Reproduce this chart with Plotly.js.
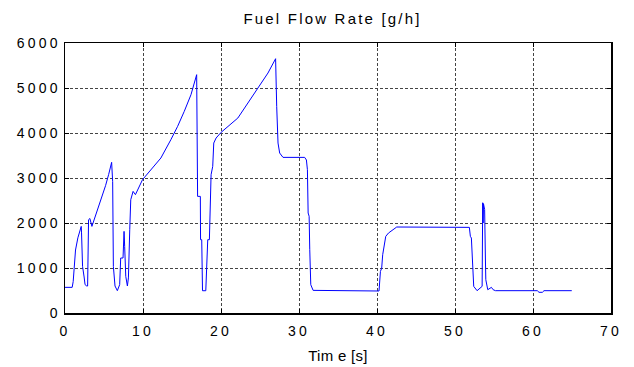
<!DOCTYPE html>
<html>
<head>
<meta charset="utf-8">
<script src="https://cdn.plot.ly/plotly-3.0.1.min.js"></script>
<style>
  html, body { margin: 0; padding: 0; background: #fff; }
  #chart { width: 634px; height: 367px; }
  #chart .xtick text, #chart .ytick text { letter-spacing: 3.2px; }
  #chart .gtitle { letter-spacing: 2.2px; }
  #chart .xtitle { letter-spacing: 0.3px; }
</style>
</head>
<body>
<div id="chart"></div>
<script>
// Time samples [s]
const time = [
  0, 0.92, 1.05, 1.35, 1.65, 2.08, 2.12, 2.25, 2.45, 2.57, 2.79, 2.9, 3.02, 3.19, 3.45, 3.7,
  4.2, 4.7, 5.2, 5.6, 5.98, 6.11, 6.2, 6.41, 6.71, 7.01, 7.14, 7.44, 7.57, 7.65, 7.79, 8.0,
  8.13, 8.3, 8.43, 8.73, 9.03, 9.94, 11.0, 12.29, 13.57, 14.44, 15.29, 16.15, 16.88,
  17.0, 17.35, 17.38, 17.53, 17.57, 17.63, 18.05, 18.17, 18.3, 18.51, 18.64, 18.73, 18.94,
  19.07, 19.37, 20.01, 22.16, 23.2, 24.3, 26.02, 27.0, 27.09, 27.14, 27.31, 27.52, 27.95,
  30.73, 30.95, 31.08, 31.17, 31.3, 31.38, 31.51, 31.81, 40.26, 40.44, 40.6, 40.73, 40.95,
  41.12, 41.47, 42.53, 51.84, 51.97, 52.1, 52.28, 52.4, 52.83, 53.26, 53.48, 53.55, 53.6,
  53.65, 53.72, 53.8, 53.9, 53.95, 54.2, 54.67, 54.89, 55.19, 60.55, 60.77, 61.2, 61.41, 64.97
];

// Fuel flow rate [g/h]
const fuelFlow = [
  570, 570, 700, 1400, 1670, 1925, 1780, 1036, 800, 630, 600, 600, 2073, 2100, 1925, 2050,
  2300, 2560, 2830, 3080, 3348, 2920, 1036, 600, 496, 630, 1222, 1222, 1814, 1480, 815, 600,
  780, 1850, 2518, 2703, 2630, 2963, 3185, 3444, 3851, 4148, 4481, 4851, 5296,
  2592, 2592, 1629, 1629, 555, 495, 495, 1184, 1629, 1629, 2518, 3073, 3259,
  3777, 3888, 4014, 4333, 4600, 4888, 5333, 5651, 4666, 4592, 3777, 3555, 3458,
  3458, 3400, 3185, 2222, 2150, 1407, 629, 503, 489, 925, 995, 1296, 1518,
  1703, 1777, 1911, 1903, 1703, 1666, 851, 592, 496, 555, 592, 2450, 2000,
  2430, 2380, 2300, 1200, 740, 518, 570, 518, 496, 496, 460, 460, 496, 496
];

const xTicks = [0, 10, 20, 30, 40, 50, 60, 70];
const yTicks = [0, 1000, 2000, 3000, 4000, 5000, 6000];

const fontFamily = '"Liberation Sans", Arial, sans-serif';
const tickFont = { family: fontFamily, size: 14, color: '#000' };

const axisCommon = {
  showline: true,
  linecolor: '#000',
  linewidth: 1.5,
  mirror: 'allticks',
  ticks: 'inside',
  ticklen: 4,
  tickcolor: '#000',
  showgrid: true,
  gridcolor: '#444',
  gridwidth: 1,
  griddash: '3px,2px',
  zeroline: false,
  tickfont: tickFont,
  fixedrange: true
};

const trace = {
  x: time,
  y: fuelFlow,
  type: 'scatter',
  mode: 'lines',
  line: { color: '#0000ff', width: 1 },
  hoverinfo: 'skip'
};

const layout = {
  width: 634,
  height: 367,
  margin: { l: 65, r: 23, t: 43, b: 54 },
  paper_bgcolor: '#fff',
  plot_bgcolor: '#fff',
  showlegend: false,
  title: {
    text: 'Fuel Flow Rate [g/h]',
    font: { family: fontFamily, size: 15, color: '#000' },
    x: 0.49, xref: 'paper', xanchor: 'center',
    y: 0.948, yref: 'container', yanchor: 'middle'
  },
  xaxis: Object.assign({}, axisCommon, {
    range: [0, 70],
    tickmode: 'array',
    tickvals: xTicks,
    ticktext: xTicks.map(String),
    ticklabelstandoff: 5,
    title: { text: 'Tim e [s]', font: { family: fontFamily, size: 15, color: '#000' }, standoff: 12 }
  }),
  yaxis: Object.assign({}, axisCommon, {
    range: [0, 6000],
    tickmode: 'array',
    tickvals: yTicks,
    ticktext: yTicks.map(String)
  })
};

Plotly.newPlot('chart', [trace], layout, { displayModeBar: false, staticPlot: true });
</script>
</body>
</html>
